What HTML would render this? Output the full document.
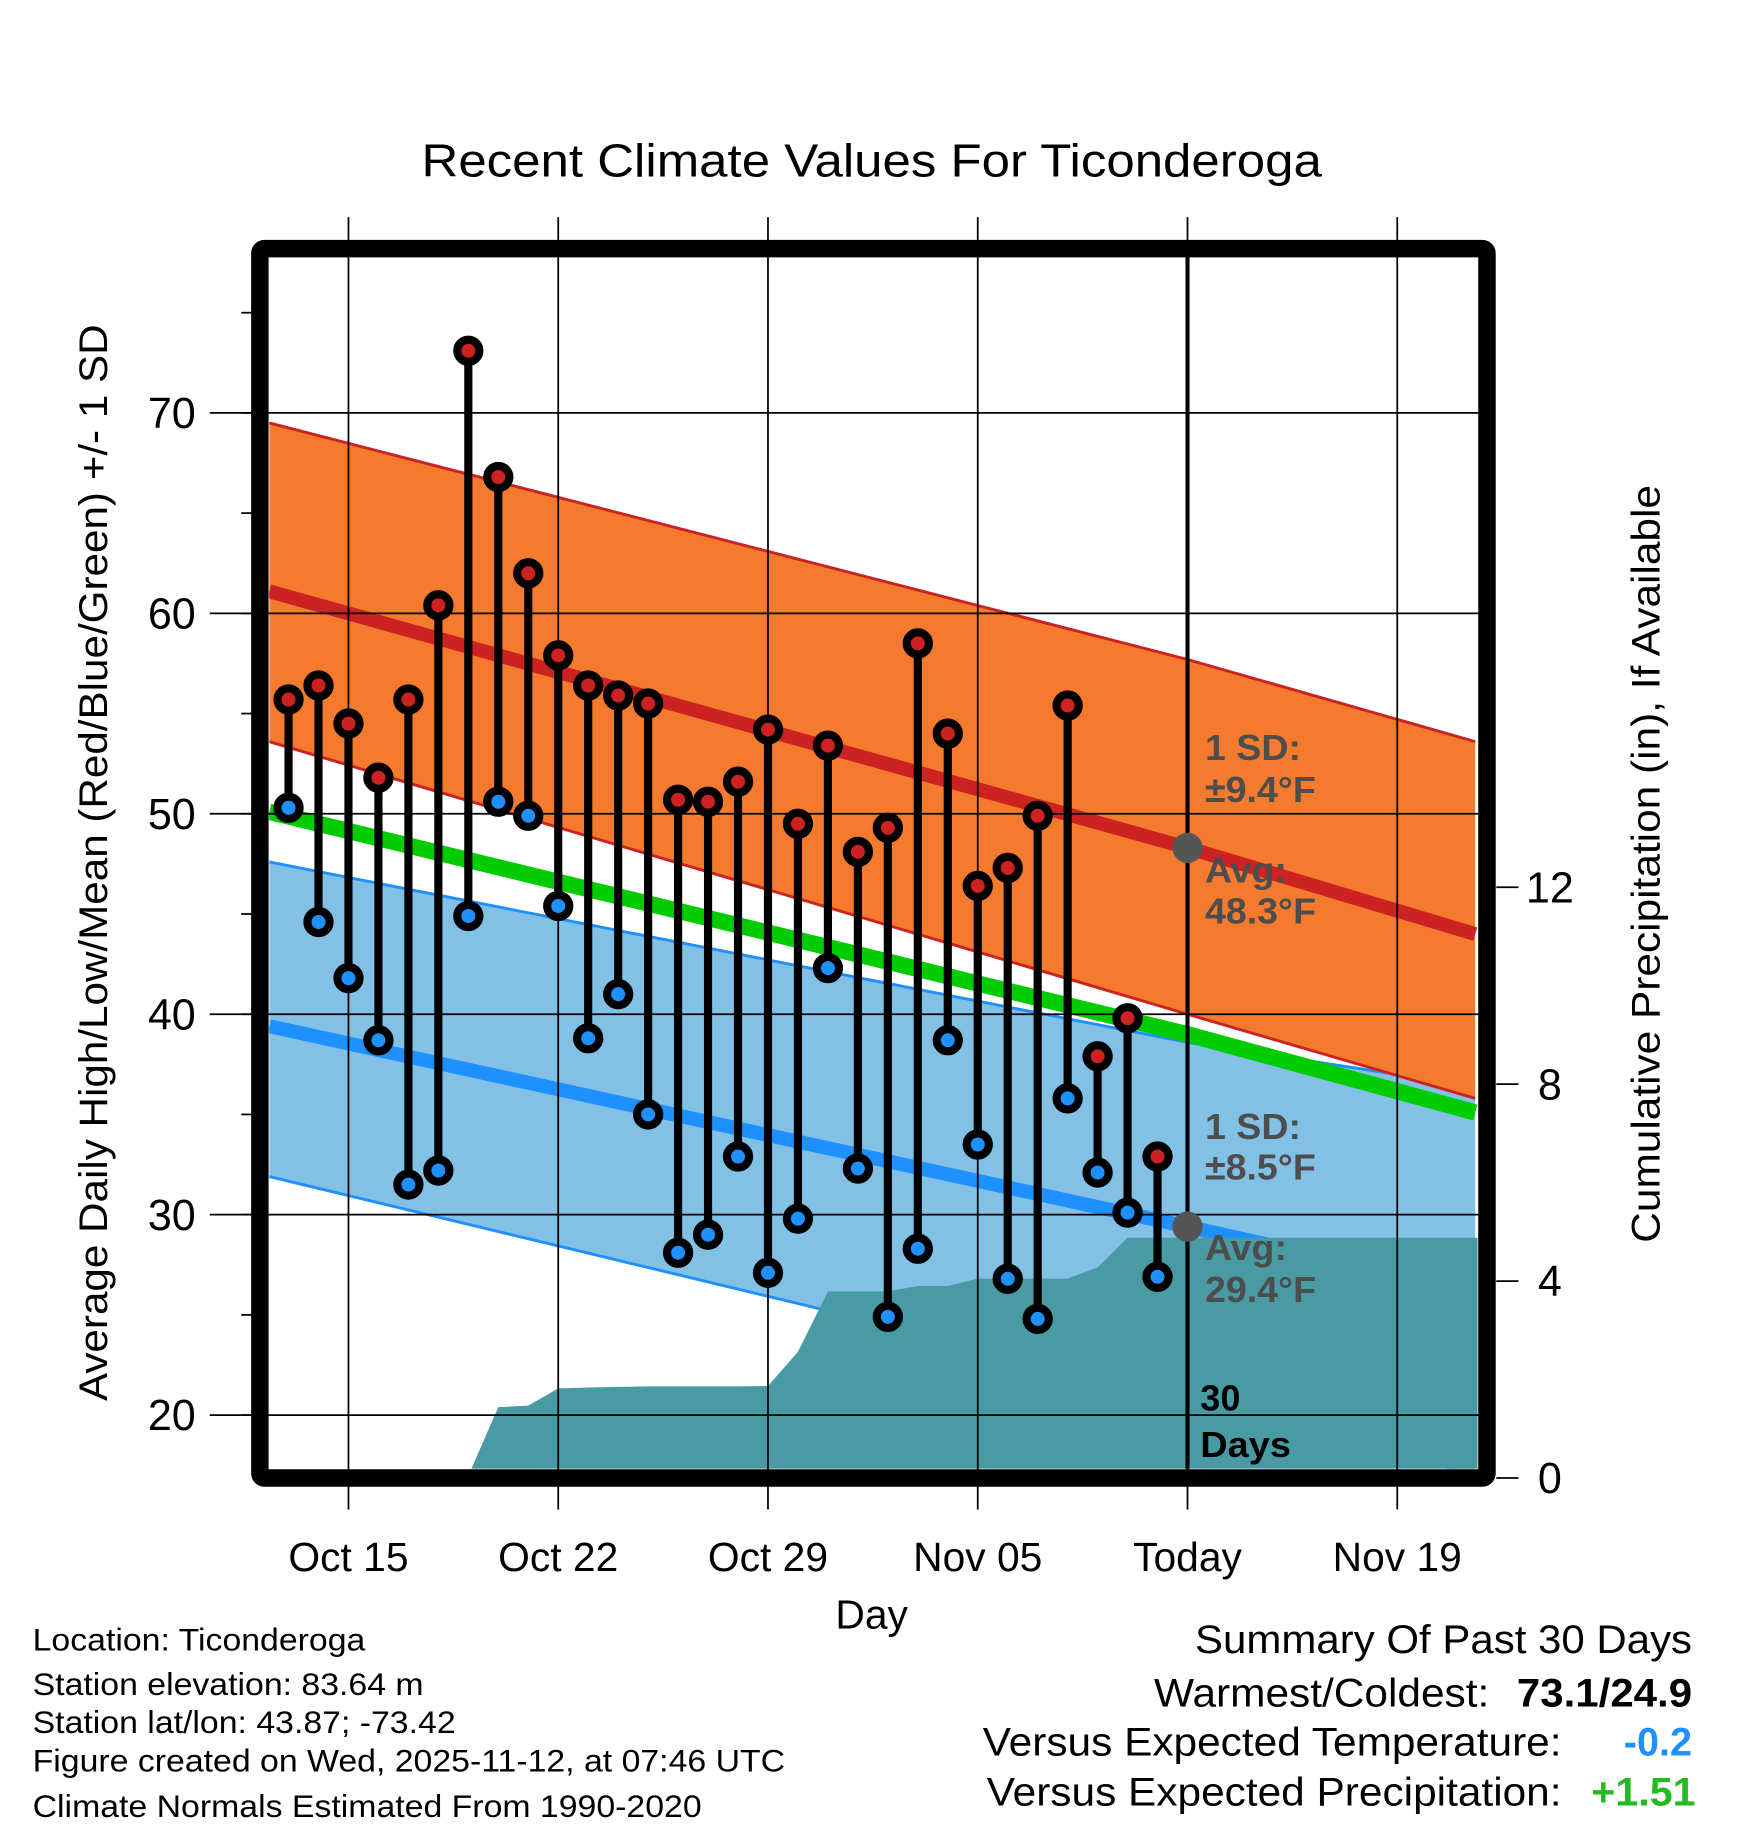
<!DOCTYPE html>
<html><head><meta charset="utf-8"><style>
html,body{margin:0;padding:0;background:#fff}
svg{display:block;font-family:"Liberation Sans",sans-serif}
</style></head><body>
<svg id="chart" width="1748" height="1828" viewBox="0 0 1500 1568" xmlns="http://www.w3.org/2000/svg">
<g id="g"></g>
</svg>
<script>
const highs=[55.7,56.4,54.5,51.8,55.7,60.4,73.1,66.8,62.0,57.9,56.4,55.9,55.5,50.7,50.6,51.6,54.2,49.5,53.4,48.1,49.3,58.5,54.0,46.4,47.3,49.9,55.4,37.9,39.8,32.9];
const lows=[50.3,44.6,41.8,38.7,31.5,32.2,44.9,50.6,49.9,45.4,38.8,41.0,35.0,28.1,29.0,32.9,27.1,29.8,42.3,32.3,24.9,28.3,38.7,33.5,26.8,24.8,35.8,32.1,30.1,26.9];
const precip=[0,0,0,0,0,0,0,1.44,1.47,1.82,1.84,1.85,1.86,1.86,1.86,1.86,1.87,2.56,3.79,3.79,3.79,3.9,3.9,4.05,4.05,4.05,4.05,4.28,4.88,4.88];
// normals at [left edge, today, right edge] (day offsets from Oct 13)
const normDays=[-0.64,30,39.6];
const sdHighUpper=[69.5,57.7,53.6];
const avgHigh=[61.1,48.3,44.0];
const sdHighLower=[53.6,40.0,35.8];
const avgMean=[50.1,39.0,35.1];
const sdLowUpper=[47.6,38.6,36.4];
const avgLow=[39.4,29.4,26.2];
const sdLowLower=[31.9,20.9,17.0];
const xTickDays=[2,9,16,23,30,37];
const xTickLabels=["Oct 15","Oct 22","Oct 29","Nov 05","Today","Nov 19"];
const yTicks=[20,30,40,50,60,70];
const pTicks=[0,4,8,12];

const X=d=>247.6+d*25.714;
const Y=v=>354+(70-v)*17.2;
const P=p=>1268-p*42.25;
const L=231,R=1268,T=220,B=1260;
const g=document.getElementById('g');
const NS='http://www.w3.org/2000/svg';
function el(tag,attrs,parent){const e=document.createElementNS(NS,tag);for(const k in attrs)e.setAttribute(k,attrs[k]);(parent||g).appendChild(e);return e;}
function txt(s,attrs){const e=el('text',attrs);e.textContent=s;return e;}
function widen(e,f){const w=e.getComputedTextLength();e.setAttribute('textLength',(w*f).toFixed(1));e.setAttribute('lengthAdjust','spacingAndGlyphs');}
function pts(days,vals){return days.map((d,i)=>X(d).toFixed(1)+','+Y(vals[i]).toFixed(1)).join(' ');}

const defs=el('defs',{});const cp=el('clipPath',{id:'clip'},defs);el('rect',{x:L,y:T,width:R-L,height:B-T},cp);
const pg=el('g',{'clip-path':'url(#clip)'});

let e=el('polygon',{points:pts(normDays,sdLowUpper)+' '+pts(normDays.slice().reverse(),sdLowLower.slice().reverse()),fill:'#82c0e6'},pg);

el('polyline',{points:pts(normDays,sdLowUpper),fill:'none',stroke:'#1e90ff','stroke-width':2.5},pg);
el('polyline',{points:pts(normDays,sdLowLower),fill:'none',stroke:'#1e90ff','stroke-width':2.5},pg);
e=el('polyline',{points:pts(normDays,avgLow),fill:'none',stroke:'#1e90ff','stroke-width':12},pg);

e=el('polygon',{points:pts(normDays,sdHighUpper)+' '+pts(normDays.slice().reverse(),sdHighLower.slice().reverse()),fill:'#f47a2e'},pg);

el('polyline',{points:pts(normDays,sdHighUpper),fill:'none',stroke:'#cc2222','stroke-width':2.5},pg);
el('polyline',{points:pts(normDays,sdHighLower),fill:'none',stroke:'#cc2222','stroke-width':2.5},pg);
e=el('polyline',{points:pts(normDays,avgHigh),fill:'none',stroke:'#cc2222','stroke-width':12},pg);

e=el('polyline',{points:pts(normDays,avgMean),fill:'none',stroke:'#00cc00','stroke-width':14},pg);

let pp=[X(6.1).toFixed(1)+','+B];
precip.forEach((p,i)=>{if(i>=7)pp.push(X(i).toFixed(1)+','+P(p).toFixed(1));});
pp.push(R+','+P(precip[precip.length-1]).toFixed(1));pp.push(R+','+B);
e=el('polygon',{points:pp.join(' '),fill:'#489aa3'},pg);


yTicks.forEach(v=>{el('line',{x1:180,x2:R+10,y1:Y(v),y2:Y(v),stroke:'#000','stroke-width':1.5});
 e=txt(String(v),{x:168,y:Y(v)+13,'font-size':37,'text-anchor':'end'});
 });
for(let v=20;v<=75;v+=5){el('line',{x1:207,x2:216,y1:Y(v),y2:Y(v),stroke:'#000','stroke-width':1.5});}
xTickDays.forEach((d,i)=>{el('line',{x1:X(d),x2:X(d),y1:186,y2:1295,stroke:'#000','stroke-width':1.5});
 e=txt(xTickLabels[i],{x:X(d),y:1348,'font-size':35,'text-anchor':'middle'});
 });
pTicks.forEach(p=>{el('line',{x1:1284,x2:1303,y1:P(p),y2:P(p),stroke:'#000','stroke-width':1.5});
 e=txt(String(p),{x:1330,y:P(p)+13,'font-size':37,'text-anchor':'middle'});
 });
e=el('line',{x1:X(30),x2:X(30),y1:T,y2:B,stroke:'#000','stroke-width':3.5});


highs.forEach((h,i)=>{
 const s=el('line',{x1:X(i),x2:X(i),y1:Y(h),y2:Y(lows[i]),stroke:'#000','stroke-width':7});
 
 const c1=el('circle',{cx:X(i),cy:Y(h),r:9.5,fill:'#cc2222',stroke:'#000','stroke-width':7});
 
 const c2=el('circle',{cx:X(i),cy:Y(lows[i]),r:9.5,fill:'#1e90ff',stroke:'#000','stroke-width':7});
 
});
e=el('circle',{cx:X(30),cy:Y(avgHigh[1]),r:13,fill:'#555'});
e=el('circle',{cx:X(30),cy:Y(avgLow[1]),r:13,fill:'#555'});

const ann=[["1 SD:",652],["±9.4°F",688],["Avg:",757],["48.3°F",792],["1 SD:",977],["±8.5°F",1012],["Avg:",1081],["29.4°F",1117]];
ann.forEach(a=>{e=txt(a[0],{x:1034,y:a[1],'font-size':31,'font-weight':'bold',fill:'#4d4d4d'});widen(e,1.04);});
e=txt("30",{x:1030,y:1210,'font-size':31,'font-weight':'bold'});
e=txt("Days",{x:1030,y:1250,'font-size':31,'font-weight':'bold'});widen(e,1.05);

e=el('rect',{x:223,y:213,width:1053,height:1055,fill:'none',stroke:'#000','stroke-width':15,rx:4});


e=txt("Recent Climate Values For Ticonderoga",{x:748,y:151,'font-size':40,'text-anchor':'middle'});widen(e,1.094);
e=txt("Average Daily High/Low/Mean (Red/Blue/Green) +/- 1 SD",{x:0,y:0,'font-size':34,'text-anchor':'middle',transform:'translate(92,740) rotate(-90)'});widen(e,1.065);
e=txt("Cumulative Precipitation (in), If Available",{x:0,y:0,'font-size':34,'text-anchor':'middle',transform:'translate(1424,741) rotate(-90)'});widen(e,1.07);
e=txt("Day",{x:748,y:1397,'font-size':35,'text-anchor':'middle'});

const info=[["Location: Ticonderoga",1416],["Station elevation: 83.64 m",1454],["Station lat/lon: 43.87; -73.42",1487],["Figure created on Wed, 2025-11-12, at 07:46 UTC",1520],["Climate Normals Estimated From 1990-2020",1559]];
info.forEach(a=>{e=txt(a[0],{x:28,y:a[1],'font-size':27});widen(e,1.075);});
e=txt("Summary Of Past 30 Days",{x:1452,y:1418,'font-size':34,'text-anchor':'end'});widen(e,1.06);
e=txt("Warmest/Coldest:",{x:1278,y:1464,'font-size':34,'text-anchor':'end'});widen(e,1.07);
e=txt("73.1/24.9",{x:1452,y:1464,'font-size':34,'font-weight':'bold','text-anchor':'end'});widen(e,1.06);
e=txt("Versus Expected Temperature:",{x:1340,y:1506,'font-size':34,'text-anchor':'end'});widen(e,1.07);
e=txt("-0.2",{x:1452,y:1506,'font-size':34,'font-weight':'bold','text-anchor':'end',fill:'#1e90ff'});
e=txt("Versus Expected Precipitation:",{x:1340,y:1549,'font-size':34,'text-anchor':'end'});widen(e,1.07);
e=txt("+1.51",{x:1455,y:1549,'font-size':34,'font-weight':'bold','text-anchor':'end',fill:'#22bb22'});widen(e,1.04);
</script>
</body></html>
